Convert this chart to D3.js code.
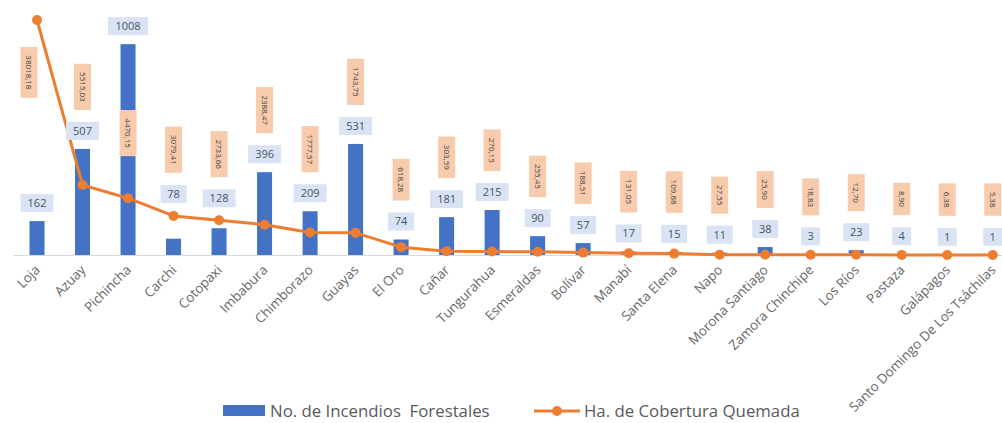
<!DOCTYPE html>
<html><head><meta charset="utf-8">
<script src="https://cdn.jsdelivr.net/npm/d3@7"></script>
<style>
html,body{margin:0;padding:0;background:#fff;}
svg{display:block;font-family:"Open Sans",sans-serif;}
</style></head>
<body><svg id="c" width="1002" height="423"></svg>
<script>
const provincias = ["Loja","Azuay","Pichincha","Carchi","Cotopaxi","Imbabura","Chimborazo","Guayas","El Oro","Cañar","Tungurahua","Esmeraldas","Bolívar","Manabí","Santa Elena","Napo","Morona Santiago","Zamora Chinchipe","Los Ríos","Pastaza","Galápagos","Santo Domingo De Los Tsáchilas"];
const incendios = [162,507,1008,78,128,396,209,531,74,181,215,90,57,17,15,11,38,3,23,4,1,1];
const hectareas = [38018.18,5515.03,4470.15,3079.41,2733.66,2388.47,1777.57,1743.75,618.28,303.59,270.15,255.45,188.51,131.05,109.88,27.55,25.90,18.83,12.70,8.90,6.38,5.38];
const serieNames = ["No. de Incendios  Forestales","Ha. de Cobertura Quemada"];

const svg = d3.select("#c");
const baseY = 255;
const x = d3.scaleBand().domain(provincias).range([14.25, 1015.5]).paddingInner(0.67).paddingOuter(0.335);
const yBar = d3.scaleLinear().domain([0,1200]).range([baseY,4]);
const yLine = d3.scaleLinear().domain([0,18500]).range([baseY,20]).clamp(true);
const cx = d => x(d) + x.bandwidth()/2;
const fmt = v => d3.format(".2f")(v).replace(".", ",");

const BLUE="#4472c4", ORANGE="#ed7d31";

// axis line
svg.append("line").attr("x1",13).attr("x2",1002).attr("y1",baseY+0.5).attr("y2",baseY+0.5)
  .attr("stroke","#d9d9d9").attr("stroke-width",1);

// bars
svg.append("g").selectAll("rect").data(provincias).join("rect")
  .attr("x",(d)=>x(d)).attr("width",x.bandwidth())
  .attr("y",(d,i)=>yBar(incendios[i])).attr("height",(d,i)=>baseY-yBar(incendios[i]))
  .attr("fill",BLUE);

// line
const pts = provincias.map((p,i)=>[cx(p), yLine(hectareas[i])]);
svg.append("path").attr("d",d3.line()(pts)).attr("fill","none").attr("stroke",ORANGE)
  .attr("stroke-width",3).attr("stroke-linejoin","round");
svg.append("g").selectAll("circle").data(pts).join("circle")
  .attr("cx",d=>d[0]).attr("cy",d=>d[1]).attr("r",5).attr("fill",ORANGE);

// x labels
svg.append("g").selectAll("text").data(provincias).join("text")
  .attr("transform",d=>`translate(${cx(d)+1},${baseY+13}) rotate(-45)`)
  .attr("text-anchor","end").attr("dy","0.3em")
  .attr("font-size",13.3).attr("fill","#666666").text(d=>d);

// blue value labels
const blueG = svg.append("g");
const blueCenters = [];
provincias.forEach((p,i)=>{
  let cy = yBar(incendios[i]) - 18;
  const ly = yLine(hectareas[i]);
  if (Math.abs(cy-ly) < 14) cy = ly - 22;
  blueCenters.push(cy);
  const t = String(incendios[i]);
  const w = t.length*7 + 12;
  blueG.append("rect").attr("x",cx(p)-w/2).attr("y",cy-9).attr("width",w).attr("height",18)
    .attr("fill","#dae3f3");
  blueG.append("text").attr("x",cx(p)).attr("y",cy).attr("dy","0.35em").attr("text-anchor","middle")
    .attr("font-size",11).attr("fill","#44546a").text(t);
});

// orange value labels (rotated)
const labelNudge = {"Loja":{dx:-8, top:47}, "Pichincha":{top:110}};
const orG = svg.append("g");
provincias.forEach((p,i)=>{
  const t = fmt(hectareas[i]);
  const h = t.length*4.6 + 14;
  const n = labelNudge[p] || {};
  let top = n.top !== undefined ? n.top : (blueCenters[i]-9-12-h);
  const xc = cx(p) + (n.dx||0);
  orG.append("rect").attr("x",xc-8.5).attr("y",top).attr("width",17).attr("height",h)
    .attr("fill","#f8cbad");
  orG.append("text").attr("transform",`translate(${xc},${top+h/2}) rotate(90)`)
    .attr("text-anchor","middle").attr("dy","0.35em")
    .attr("font-size",8).attr("fill","#404040").text(t);
});

// legend
const lg = svg.append("g");
lg.append("rect").attr("x",223).attr("y",405).attr("width",42).attr("height",11).attr("fill",BLUE);
lg.append("text").attr("x",270).attr("y",411).attr("dy","0.35em").attr("font-size",16.8)
  .attr("fill","#595959").style("white-space","pre").text(serieNames[0]);
lg.append("line").attr("x1",534).attr("x2",580).attr("y1",411).attr("y2",411)
  .attr("stroke",ORANGE).attr("stroke-width",3);
lg.append("circle").attr("cx",557).attr("cy",411).attr("r",5).attr("fill",ORANGE);
lg.append("text").attr("x",584).attr("y",411).attr("dy","0.35em").attr("font-size",16.8)
  .attr("fill","#595959").text(serieNames[1]);
</script></body></html>
